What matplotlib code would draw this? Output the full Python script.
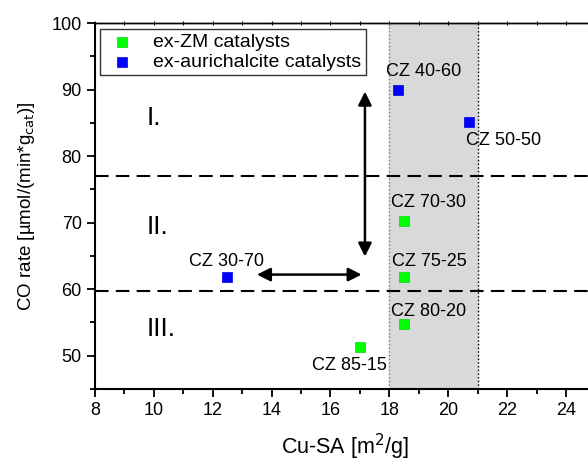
import matplotlib.pyplot as plt

plt.rcParams['font.family'] = ['Liberation Sans', 'DejaVu Sans']

# ex-ZM catalysts
zm_names = ["CZ 70-30", "CZ 75-25", "CZ 80-20", "CZ 85-15"]
zm_sa = [18.5, 18.5, 18.5, 17.0]
zm_rate = [70.3, 61.9, 54.8, 51.3]

# ex-aurichalcite catalysts
au_names = ["CZ 40-60", "CZ 50-50", "CZ 30-70"]
au_sa = [18.3, 20.7, 12.5]
au_rate = [90.0, 85.2, 61.9]

# label anchor (left edge, vertical center)
zm_lab = [(18.04, 73.1), (18.1, 64.2), (18.04, 56.7), (15.36, 48.5)]
au_lab = [(17.9, 92.8), (20.6, 82.4), (11.2, 64.2)]

region_limits = [77.0, 59.8]
regions = ["I.", "II.", "III."]
region_y = [85.7, 69.4, 54.0]
band = (18.0, 21.0)

fig = plt.figure(figsize=(5.88, 4.62), dpi=100)
ax = fig.add_axes([0.1616, 0.158, 0.851, 0.792])

ax.axvspan(band[0], band[1], color='#d9d9d9', zorder=0)
ax.axvline(band[0], color='grey', ls=':', lw=1, zorder=1)
ax.axvline(band[1], color='black', ls=':', lw=1, zorder=1)

for yl in region_limits:
    ax.axhline(yl, color='black', ls=(0, (6.5, 3.5)), lw=1.5, zorder=2)

ax.scatter(zm_sa, zm_rate, marker='s', s=45, color='#00ff00', edgecolors='#00dd00',
           linewidths=0.5, label='ex-ZM catalysts', zorder=4)
ax.scatter(au_sa, au_rate, marker='s', s=45, color='#0000ff', edgecolors='#0000dd',
           linewidths=0.5, label='ex-aurichalcite catalysts', zorder=4)

for n, (lx, ly) in zip(zm_names + au_names, zm_lab + au_lab):
    ax.text(lx, ly, n, fontsize=13, ha='left', va='center', zorder=5)

for r, ry in zip(regions, region_y):
    ax.text(9.75, ry, r, fontsize=19, ha='left', va='center')

ax.annotate('', xy=(17.17, 89.7), xytext=(17.17, 64.9),
            arrowprops=dict(arrowstyle='<|-|>', color='black', lw=1.8,
                            mutation_scale=20, shrinkA=0, shrinkB=0))
ax.annotate('', xy=(13.5, 62.2), xytext=(17.06, 62.2),
            arrowprops=dict(arrowstyle='<|-|>', color='black', lw=1.8,
                            mutation_scale=20, shrinkA=0, shrinkB=0))

ax.set_xlim(8, 25)
ax.set_ylim(45, 100)
ax.set_xticks(range(8, 25, 2))
ax.set_xticks(range(9, 26, 2), minor=True)
ax.set_yticks(range(50, 101, 10))
ax.set_yticks(range(45, 101, 10), minor=True)
ax.tick_params(which='both', direction='out', width=1.3, labelsize=13)
ax.tick_params(which='major', length=6)
ax.tick_params(which='minor', length=3.5)
for s in ['left', 'bottom']:
    ax.spines[s].set_linewidth(1.5)
ax.spines['top'].set_linewidth(1.0)

top = ax.secondary_xaxis('top')
top.set_xticks(range(8, 26))
top.tick_params(direction='inout', length=3, width=0.8, labeltop=False)
top.spines['top'].set_linewidth(1.0)

ax.set_xlabel(r'Cu-SA [m$^2$/g]', fontsize=15.5, labelpad=9)
ax.set_ylabel('CO rate [\u00b5mol/(min*g$_{\\rm cat}$)]', fontsize=13.5)
ax.yaxis.set_label_coords(-0.116, 0.5)

leg = ax.legend(loc='upper left', bbox_to_anchor=(0.01, 0.985), fontsize=14,
                frameon=True, fancybox=False, edgecolor='black',
                handletextpad=0.7, borderpad=0.25, labelspacing=0.1,
                handlelength=1.8, scatterpoints=1, borderaxespad=0.0)
leg.get_frame().set_linewidth(1)

fig.savefig('out.png', dpi=100)
